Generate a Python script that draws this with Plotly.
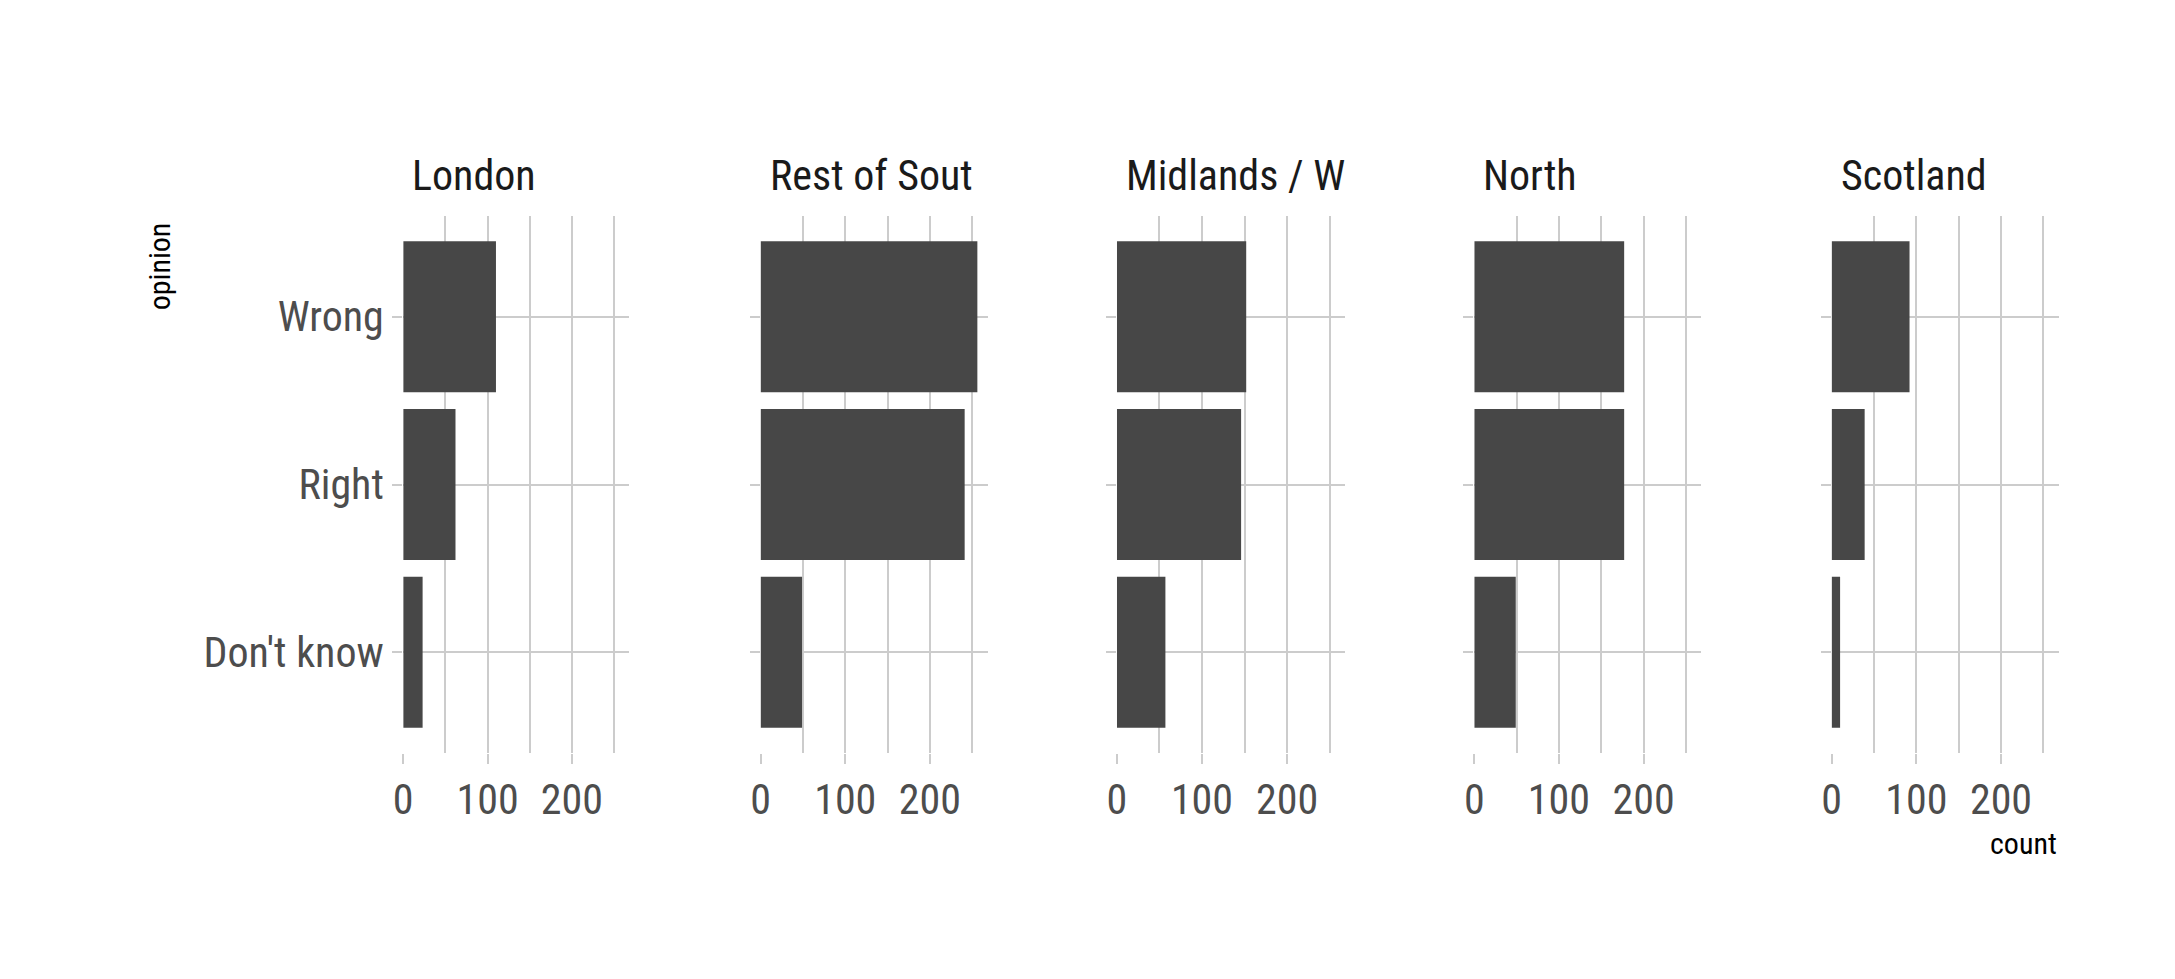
import plotly.graph_objects as go

regions = ["London", "Rest of South", "Midlands / Wales", "North", "Scotland"]
strip_labels = ["London", "Rest of Sout", "Midlands / W", "North", "Scotland"]
opinions = ["Don't know", "Right", "Wrong"]
counts = {
    "London": [23, 62, 110],
    "Rest of South": [49, 241, 256],
    "Midlands / Wales": [57, 146, 152],
    "North": [49, 177, 177],
    "Scotland": [10, 39, 92],
}
x_ticks = [0, 100, 200]

W, H = 2175, 979
panel_px = [(387, 614), (746, 974), (1104, 1333), (1463, 1691), (1822, 2050)]
y_dom = [1 - 745 / H, 1 - 208 / H]

font = "Liberation Sans Narrow, Roboto Condensed, Arial Narrow, sans-serif"
grid = "#cccccc"

fig = go.Figure()
for i, reg in enumerate(regions):
    n = "" if i == 0 else str(i + 1)
    fig.add_trace(go.Bar(
        x=counts[reg], y=opinions, orientation="h",
        marker_color="#474747", marker_line_width=0, width=0.9,
        xaxis="x" + n, yaxis="y" + n, showlegend=False,
    ))
    x0, x1 = panel_px[i]
    fig.layout["xaxis" + n] = dict(
        domain=[x0 / W, x1 / W], range=[0, 268], anchor="y" + n,
        tickvals=x_ticks, showgrid=True, gridcolor=grid, gridwidth=1.5,
        minor=dict(dtick=50, showgrid=True, gridcolor=grid, gridwidth=1.5),
        ticks="outside", ticklen=10, tickcolor=grid, tickwidth=1.5,
        zeroline=False, showline=False, fixedrange=True,
        tickfont=dict(family=font, size=42, color="#4d4d4d"),
    )
    fig.layout["yaxis" + n] = dict(
        domain=y_dom, range=[-0.6, 2.6], anchor="x" + n,
        type="category", categoryorder="array", categoryarray=opinions,
        showgrid=True, gridcolor=grid, gridwidth=1.5,
        ticks="outside", ticklen=10, tickcolor=grid, tickwidth=1.5,
        showticklabels=(i == 0), zeroline=False, showline=False,
        tickfont=dict(family=font, size=42, color="#4d4d4d"),
    )
    fig.add_annotation(
        text=strip_labels[i], x=(x0 + 7) / W, y=1 - 168 / H,
        xref="paper", yref="paper", xanchor="left", yanchor="middle",
        showarrow=False, font=dict(family=font, size=42, color="#1a1a1a"),
    )

fig.add_annotation(text="opinion", x=142 / W, y=1 - 258 / H, xref="paper", yref="paper",
                   textangle=-90, showarrow=False, xanchor="center", yanchor="middle",
                   font=dict(family=font, size=30, color="black"))
fig.add_annotation(text="count", x=2050 / W, y=1 - 835 / H, xref="paper", yref="paper",
                   showarrow=False, xanchor="right", yanchor="middle",
                   font=dict(family=font, size=30, color="black"))

fig.update_layout(
    width=W, height=H, margin=dict(l=0, r=0, t=0, b=0),
    plot_bgcolor="white", paper_bgcolor="white", bargap=0.1,
)
fig.write_html("out.html")
